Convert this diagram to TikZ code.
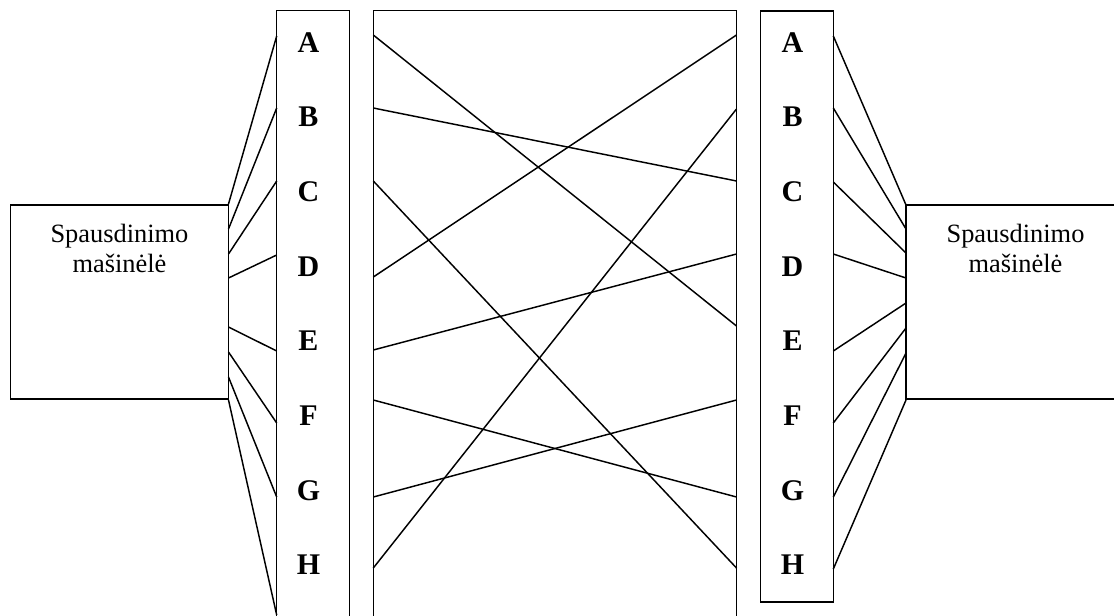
\documentclass[tikz,border=0pt]{standalone}
\usepackage{fontspec}
\setmainfont{Liberation Serif}

\begin{document}
\begin{tikzpicture}[x=0.75pt, y=-0.75pt, line width=1.1pt,
  letter/.style={font=\fontsize{22.5}{27}\selectfont\bfseries, anchor=base, inner sep=0pt},
  caption/.style={font=\fontsize{19.8}{22.5}\selectfont, align=center, anchor=base, inner sep=0pt}]
  \clip (0,0) rectangle (1114,615);
  % machines
  \draw (10.7,205) rectangle (228.5,399);
  \draw (906,205) rectangle (1130,399);
  \node[caption] (lname) at (119.5,272) {Spausdinimo\\mašinėlė};
  \node[caption] (rname) at (1015.5,272) {Spausdinimo\\mašinėlė};
  % columns and middle panel
  \draw (276.7,630) |- (349.3,10.7) -- (349.3,630);
  \draw (373.3,630) |- (736.5,10.7) -- (736.5,630);
  \draw (760.7,11) rectangle (833.3,602);
  \foreach \l [count=\i from 0] in {A,...,H} {
    \node[letter] (l\l) at (308.5,52+74.7*\i) {\l};
    \node[letter] (r\l) at (792.5,52+74.7*\i) {\l};
  }
  % wire ends
  \foreach \l/\a/\b/\c/\d/\e/\f in {A/204/36/35/35/36/205, B/229/108/108/109/108/229,
      C/254/181/181/181/182/253, D/278/255/277/254/254/278, E/327/351/350/326/351/303,
      F/352/423/400/400/423/328, G/377/497/497/497/497/353, H/400/615/568/568/569/400} {
    \coordinate (lp\l) at (228.5,\a);
    \coordinate (lc\l) at (276.7,\b);
    \coordinate (ml\l) at (373.3,\c);
    \coordinate (mr\l) at (736.5,\d);
    \coordinate (rc\l) at (833.3,\e);
    \coordinate (rp\l) at (906,\f);
  }
  \foreach \l in {A,...,H} {
    \draw (lp\l) -- (lc\l);
    \draw (rc\l) -- (rp\l);
  }
  \foreach \p/\q in {A/E, B/C, C/H, D/A, E/D, F/G, G/F, H/B}
    \draw (ml\p) -- (mr\q);
\end{tikzpicture}
\end{document}
